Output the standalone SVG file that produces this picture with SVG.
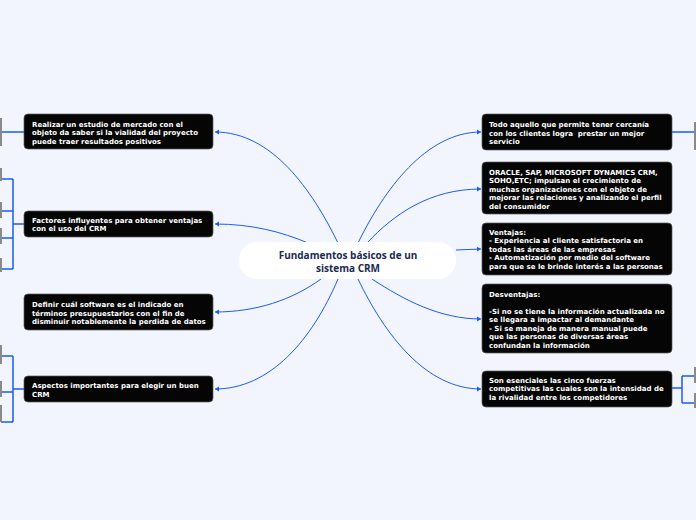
<svg xmlns="http://www.w3.org/2000/svg" width="696" height="520" viewBox="0 0 696 520">
<defs>
<marker id="arr" markerUnits="userSpaceOnUse" markerWidth="6" markerHeight="6" refX="4" refY="3" orient="auto">
<path d="M0,0.6 L4,3 L0,5.4 Z" fill="#1a5cf5"/>
</marker>
<style>
.bg{fill:#f3f5fe}
.box{fill:#050505;stroke:#5a5a5a;stroke-width:0.7}
.t{font-family:"DejaVu Sans",Verdana,sans-serif;font-weight:bold;font-size:7px;fill:#ffffff}
.c{fill:none;stroke:#1a5cf5;stroke-width:1}
.b{fill:none;stroke:#1a5cf5;stroke-width:1.5}
.stub{fill:#8a8a8a}
.ct{font-family:"Open Sans","Noto Sans",sans-serif;font-weight:bold;font-size:10px;fill:#1b2a55;text-anchor:middle}
</style>
</defs>
<rect class="bg" x="0" y="0" width="696" height="520"/>

<g id="connectors">
<path class="c" d="M338,243 C312,190 272,132 215,132" marker-end="url(#arr)"/>
<path class="c" d="M308,243 C282,232 252,224 215,224" marker-end="url(#arr)"/>
<path class="c" d="M321,279 C292,300 256,312 215,312" marker-end="url(#arr)"/>
<path class="c" d="M338,279 C312,340 270,389 215,389" marker-end="url(#arr)"/>
<path class="c" d="M358,243 C384,190 426,132 481,132" marker-end="url(#arr)"/>
<path class="c" d="M367,243 C394,214 430,189 481,189" marker-end="url(#arr)"/>
<path class="c" d="M456,250 L481,249" marker-end="url(#arr)"/>
<path class="c" d="M372,279 C404,300 440,319 481,319" marker-end="url(#arr)"/>
<path class="c" d="M358,279 C385,335 426,389 481,389" marker-end="url(#arr)"/>
<path class="b" d="M24,132 L1,132"/>
<path class="b" d="M24,224 L13,224 M13,179 L13,269 M13,179 L1,179 M13,211 L1,211 M13,238 L1,238 M13,269 L1,269"/>
<path class="b" d="M24,389 L13,389 M13,356 L13,422 M13,356 L1,356 M13,392 L1,392 M13,422 L1,422"/>
<path class="b" d="M672,132 L695,132"/>
<path class="b" d="M672,388 L682,388 M682,376 L682,403 M682,376 L695,376 M682,403 L695,403"/>
</g>

<g id="stubs">
<rect class="stub" x="0" y="118" width="2" height="28"/>
<rect class="stub" x="0" y="168" width="2" height="13"/>
<rect class="stub" x="0" y="202" width="2" height="16"/>
<rect class="stub" x="0" y="228" width="2" height="16"/>
<rect class="stub" x="0" y="258" width="2" height="14"/>
<rect class="stub" x="0" y="345" width="2" height="19"/>
<rect class="stub" x="0" y="381" width="2" height="16"/>
<rect class="stub" x="0" y="405" width="2" height="17"/>
<rect class="stub" x="694" y="122" width="2" height="28"/>
<rect class="stub" x="694" y="367" width="2" height="16"/>
<rect class="stub" x="694" y="393" width="2" height="15"/>
</g>

<g id="center">
<rect x="239" y="242" width="217" height="37" rx="18" fill="#ffffff"/>
<text class="ct" x="348" y="258.5">Fundamentos básicos de un</text>
<text class="ct" x="348" y="271.5">sistema CRM</text>
</g>

<g id="n-estudio">
<rect class="box" x="24" y="114" width="189" height="35" rx="4"/>
<text class="t" x="32" y="126.7">Realizar un estudio de mercado con el</text>
<text class="t" x="32" y="135.2">objeto da saber si la vialidad del proyecto</text>
<text class="t" x="32" y="143.7">puede traer resultados positivos</text>
</g>

<g id="n-factores">
<rect class="box" x="24" y="211" width="189" height="26" rx="4"/>
<text class="t" x="32" y="222.6">Factores influyentes para obtener ventajas</text>
<text class="t" x="32" y="231.1">con el uso del CRM</text>
</g>

<g id="n-definir">
<rect class="box" x="24" y="294" width="189" height="36" rx="4"/>
<text class="t" x="32" y="307">Definir cuál software es el indicado en</text>
<text class="t" x="32" y="315.5">términos presupuestarios con el fin de</text>
<text class="t" x="32" y="324">disminuir notablemente la perdida de datos</text>
</g>

<g id="n-aspectos">
<rect class="box" x="24" y="376" width="189" height="26" rx="4"/>
<text class="t" x="32" y="388.4">Aspectos importantes para elegir un buen</text>
<text class="t" x="32" y="396.9">CRM</text>
</g>

<g id="n-cercania">
<rect class="box" x="482" y="114" width="190" height="36" rx="4"/>
<text class="t" x="489" y="127">Todo aquello que permite tener cercanía</text>
<text class="t" x="489" y="135.5" xml:space="preserve">con los clientes logra  prestar un mejor</text>
<text class="t" x="489" y="144">servicio</text>
</g>

<g id="n-oracle">
<rect class="box" x="482" y="162" width="190" height="52" rx="4"/>
<text class="t" x="489" y="174.5">ORACLE, SAP, MICROSOFT DYNAMICS CRM,</text>
<text class="t" x="489" y="183">SOHO,ETC; impulsan el crecimiento de</text>
<text class="t" x="489" y="191.5">muchas organizaciones con el objeto de</text>
<text class="t" x="489" y="200">mejorar las relaciones y analizando el perfil</text>
<text class="t" x="489" y="208.5">del consumidor</text>
</g>

<g id="n-ventajas">
<rect class="box" x="482" y="223" width="190" height="52" rx="4"/>
<text class="t" x="489" y="234.5">Ventajas:</text>
<text class="t" x="489" y="243">- Experiencia al cliente satisfactoria en</text>
<text class="t" x="489" y="251.5">todas las áreas de las empresas</text>
<text class="t" x="489" y="260">- Automatización por medio del software</text>
<text class="t" x="489" y="268.5">para que se le brinde interés a las personas</text>
</g>

<g id="n-desventajas">
<rect class="box" x="482" y="284" width="190" height="69" rx="4"/>
<text class="t" x="489" y="296.7">Desventajas:</text>
<text class="t" x="489" y="313.7">-Si no se tiene la información actualizada no</text>
<text class="t" x="489" y="322.2">se llegara a impactar al demandante</text>
<text class="t" x="489" y="330.7">- Si se maneja de manera manual puede</text>
<text class="t" x="489" y="339.2">que las personas de diversas áreas</text>
<text class="t" x="489" y="347.7">confundan la información</text>
</g>

<g id="n-fuerzas">
<rect class="box" x="482" y="371" width="190" height="36" rx="4"/>
<text class="t" x="489" y="382.7">Son esenciales las cinco fuerzas</text>
<text class="t" x="489" y="391.2">competitivas las cuales son la intensidad de</text>
<text class="t" x="489" y="399.7">la rivalidad entre los competidores</text>
</g>
</svg>
